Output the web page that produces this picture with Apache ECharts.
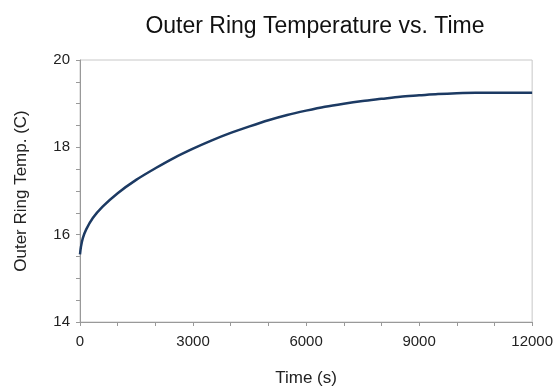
<!DOCTYPE html>
<html>
<head>
<meta charset="utf-8">
<script src="https://cdn.jsdelivr.net/npm/echarts@6/dist/echarts.min.js"></script>
<style>html,body{margin:0;padding:0;background:#fff}#c{width:556px;height:392px}</style>
</head>
<body>
<div id="c"></div>
<script>
const titleText = "Outer Ring Temperature vs. Time";
const xName = "Time (s)";
const yName = "Outer Ring Temp. (C)";
const times = [0, 25, 75, 165, 340, 600, 1000, 1500, 2000, 2500, 3000, 3500, 4000, 4500, 5000, 5500, 6000, 6500, 7000, 7500, 8000, 8500, 9000, 9500, 10000, 10500, 11000, 11500, 12000];
const temps = [15.55, 15.72, 15.92, 16.12, 16.38, 16.64, 16.95, 17.26, 17.52, 17.76, 17.97, 18.16, 18.33, 18.48, 18.62, 18.74, 18.84, 18.93, 19.0, 19.06, 19.11, 19.16, 19.19, 19.22, 19.24, 19.25, 19.25, 19.25, 19.25];
const xLabels = [0, 3000, 6000, 9000, 12000];
const yLabels = [14, 16, 18, 20];

const chart = echarts.init(document.getElementById('c'));
const font = 'Liberation Sans, Arial, sans-serif';
chart.setOption({
  animation: false,
  title: { text: titleText, left: 310, top: 10, textAlign: 'center',
    textStyle: { fontFamily: font, fontSize: 23, fontWeight: 'normal', color: '#111' } },
  grid: { left: 80, right: 23, top: 60, bottom: 70, show: true, borderColor: '#c8c8c8', borderWidth: 1 },
  xAxis: {
    type: 'value', min: 0, max: 12000, interval: 1000,
    name: xName, nameLocation: 'middle', nameGap: 48,
    nameTextStyle: { fontFamily: font, fontSize: 17, color: '#222' },
    axisLine: { show: true, lineStyle: { color: '#999', width: 1 } },
    axisTick: { show: true, length: 4, lineStyle: { color: '#999' } },
    splitLine: { show: false },
    axisLabel: { fontFamily: font, fontSize: 15, color: '#222', margin: 12,
      formatter: v => xLabels.includes(v) ? String(v) : '' }
  },
  yAxis: {
    type: 'value', min: 14, max: 20, interval: 0.5,
    name: yName, nameLocation: 'middle', nameGap: 50,
    nameTextStyle: { fontFamily: font, fontSize: 17, color: '#222' },
    axisLine: { show: true, lineStyle: { color: '#999', width: 1 } },
    axisTick: { show: true, length: 4, lineStyle: { color: '#999' } },
    splitLine: { show: false },
    axisLabel: { fontFamily: font, fontSize: 15, color: '#222', margin: 10,
      formatter: v => yLabels.includes(v) ? String(v) : '' }
  },
  series: [{
    type: 'line', smooth: 0.3, showSymbol: false,
    data: times.map((t, i) => [t, temps[i]]),
    lineStyle: { color: '#1c3a63', width: 2.5 }
  }]
});
</script>
</body>
</html>
